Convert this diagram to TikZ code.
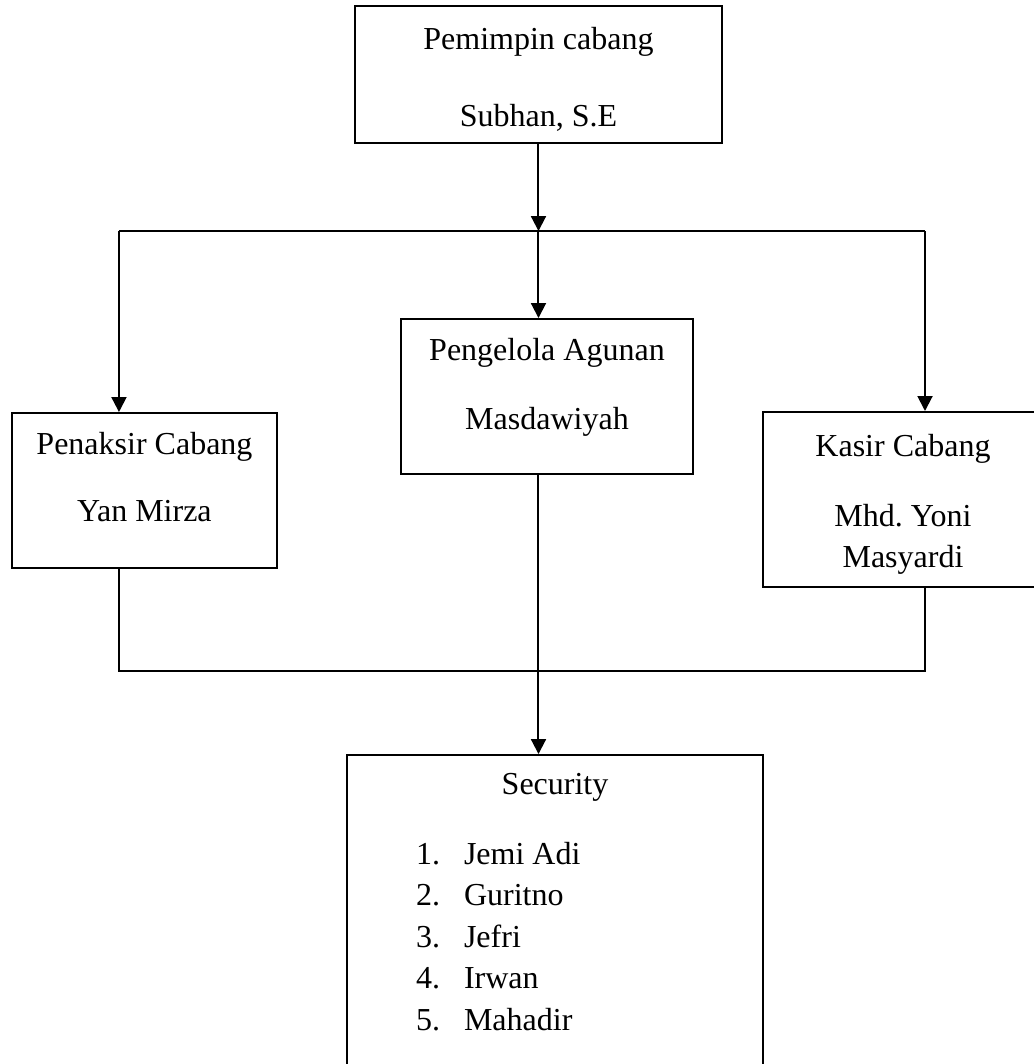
\documentclass[tikz,border=0pt]{standalone}
\usepackage{fontspec}
\setmainfont{Liberation Serif}
\usepackage{tikz}
\usetikzlibrary{arrows.meta, positioning, calc}
\newcommand{\lowpad}[1]{\rule[-#1]{0pt}{#1}}
\newcommand{\toppad}[1]{\rule{0pt}{#1}}

\begin{document}
\begin{tikzpicture}[
    box/.style={draw, line width=0.75pt, align=center, inner sep=2pt,
                font=\fontsize{12}{15.6}\selectfont},
    arrow/.style={-{Triangle[length=5.6pt, width=5.6pt]}, line width=0.75pt},
    link/.style={line width=0.75pt}
  ]
    \useasboundingbox (0,0) rectangle (13.615,-14.023);

    % Top: branch head
    \node[box, minimum width=4.837cm, minimum height=1.806cm] (pimpinan) at (7.097,-0.982)
      {\toppad{12pt}Pemimpin cabang\\[13.3pt]Subhan, S.E};

    % Middle row: staff
    \node[box, minimum width=3.493cm, minimum height=2.043cm] (penaksir) at (1.904,-6.465)
      {Penaksir Cabang\\[9.4pt]Yan Mirza\lowpad{10pt}};
    \node[box, minimum width=3.849cm, minimum height=2.043cm] (agunan) at (7.209,-5.226)
      {Pengelola Agunan\\[10.5pt]Masdawiyah\lowpad{9.5pt}};
    \node[box, minimum width=3.690cm, minimum height=2.306cm] (kasir) at (11.901,-6.583)
      {\toppad{12pt}Kasir Cabang\\[10.5pt]Mhd.\ Yoni\\Masyardi};

    % Bottom: security team
    \node[box, align=left, minimum width=5.483cm, minimum height=4.152cm] (security) at (7.315,-12.027)
      {\makebox[104.25pt][c]{Security}\\[10.5pt]
       \makebox[18pt][l]{1.}Jemi Adi\\
       \makebox[18pt][l]{2.}Guritno\\
       \makebox[18pt][l]{3.}Jefri\\
       \makebox[18pt][l]{4.}Irwan\\
       \makebox[18pt][l]{5.}Mahadir\lowpad{8pt}};

    % Bus points
    \coordinate (busM) at (pimpinan.south |- 0,-3.045);
    \coordinate (busL) at (1.568,-3.045);
    \coordinate (busR) at (12.191,-3.045);
    \coordinate (lowL) at (1.568,-8.844);
    \coordinate (lowR) at (12.191,-8.844);

    % Connectors
    \draw[arrow] (pimpinan.south) -- (busM);
    \draw[link] (busL) -- (busR);
    \draw[arrow] (busL) -- (busL |- penaksir.north);
    \draw[arrow] (busM) -- (busM |- agunan.north);
    \draw[arrow] (busR) -- (busR |- kasir.north);
    \draw[link] (penaksir.south -| lowL) -- (lowL) -- (lowR) -- (kasir.south -| lowR);
    \draw[arrow] (busM |- agunan.south) -- (busM |- security.north);
  \end{tikzpicture}
\end{document}
